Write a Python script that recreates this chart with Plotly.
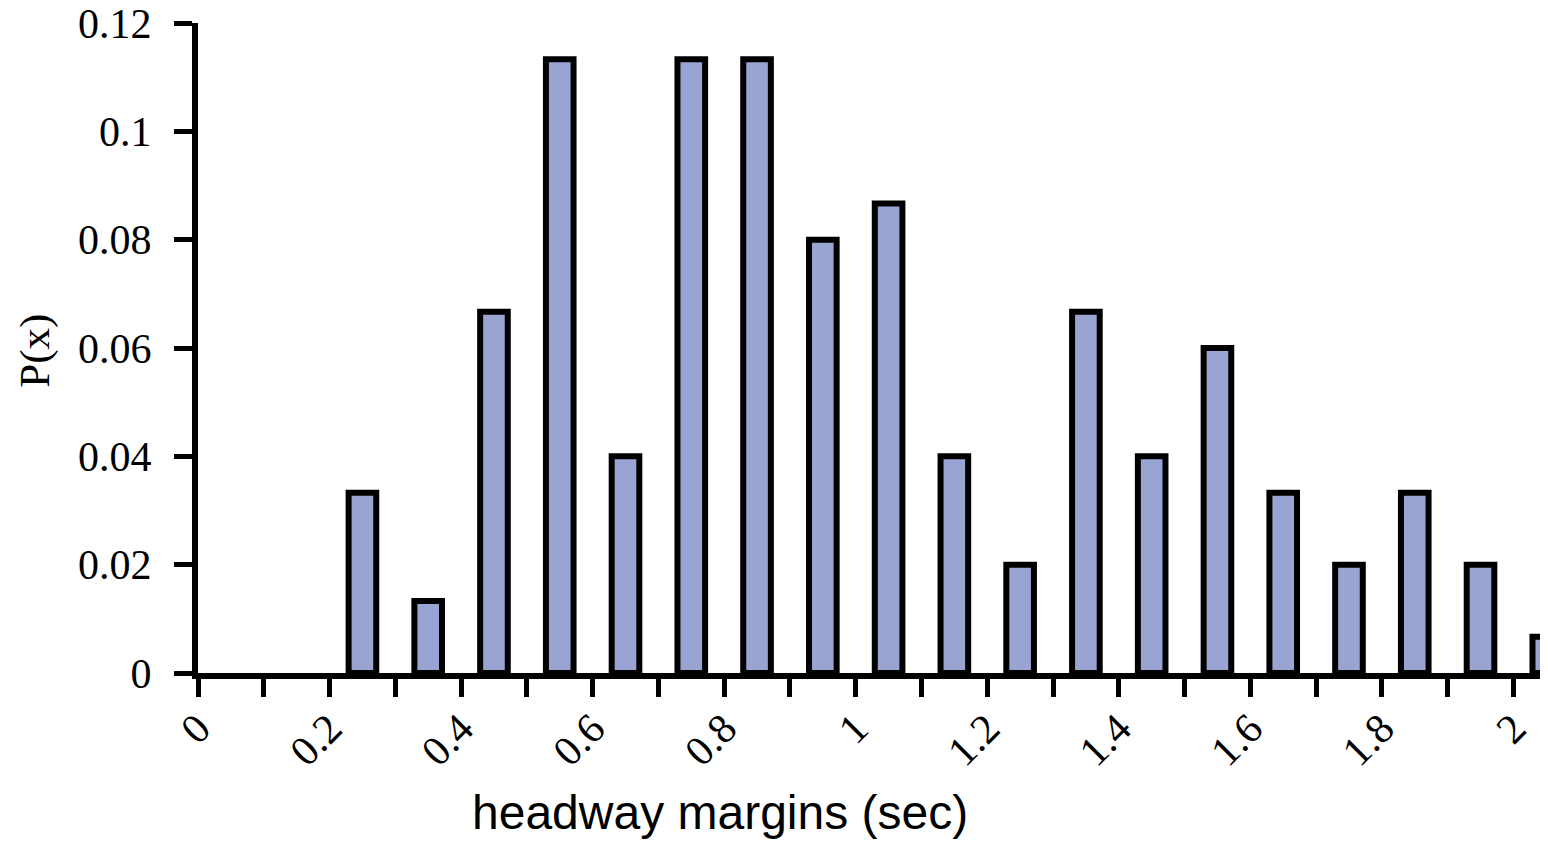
import plotly.graph_objects as go

bin_centers = [0.25, 0.35, 0.45, 0.55, 0.65, 0.75, 0.85, 0.95, 1.05,
               1.15, 1.25, 1.35, 1.45, 1.55, 1.65, 1.75, 1.85, 1.95, 2.05]
probabilities = [0.0333, 0.0133, 0.0667, 0.1133, 0.04, 0.1133, 0.1133, 0.08, 0.0867,
                 0.04, 0.02, 0.0667, 0.04, 0.06, 0.0333, 0.02, 0.0333, 0.02, 0.0067]
x_tick_vals = [round(i * 0.1, 1) for i in range(21)]
x_tick_text = ["0", "", "0.2", "", "0.4", "", "0.6", "", "0.8", "", "1", "",
               "1.2", "", "1.4", "", "1.6", "", "1.8", "", "2"]
y_tick_vals = [0, 0.02, 0.04, 0.06, 0.08, 0.1, 0.12]
y_tick_text = ["0", "0.02", "0.04", "0.06", "0.08", "0.1", "0.12"]

fig = go.Figure()
fig.add_trace(go.Bar(
    x=bin_centers, y=probabilities, width=0.042,
    marker=dict(color="#99A4D2", line=dict(color="black", width=6)),
    showlegend=False,
))

serif = "Liberation Serif"
# page body has an 8px default margin, so the figure is sized 1540x834
fig.update_layout(
    width=1540, height=834,
    margin=dict(l=190, r=0, t=15, b=169, autoexpand=False),
    plot_bgcolor="white", paper_bgcolor="white",
    xaxis=dict(
        range=[0, 2.0526], tickmode="array", tickvals=x_tick_vals, ticktext=x_tick_text,
        tickangle=-45, ticks="outside", ticklen=18, tickwidth=5, tickcolor="black",
        showline=True, linewidth=6, linecolor="black", showgrid=False, zeroline=False,
        automargin=False, ticklabelstandoff=-10, ticklabeloverflow="allow",
        tickfont=dict(family=serif, size=42, color="black"),
    ),
    yaxis=dict(
        range=[0, 0.12], tickmode="array", tickvals=y_tick_vals, ticktext=y_tick_text,
        ticks="outside", ticklen=18, tickwidth=5, tickcolor="black",
        showline=True, linewidth=6, linecolor="black", showgrid=False, zeroline=False,
        automargin=False, ticklabelstandoff=14, ticklabeloverflow="allow",
        tickfont=dict(family=serif, size=42, color="black"),
    ),
    annotations=[
        dict(text="headway margins (sec)", xref="paper", yref="paper",
             x=0.387, y=-0.215, xanchor="center", yanchor="middle", showarrow=False,
             font=dict(family="Liberation Sans", size=48, color="black")),
        dict(text="P(x)", xref="paper", yref="paper", textangle=-90,
             x=-0.1207, y=0.496, xanchor="center", yanchor="middle", showarrow=False,
             font=dict(family=serif, size=43, color="black")),
    ],
)

fig.write_html("out.html")
